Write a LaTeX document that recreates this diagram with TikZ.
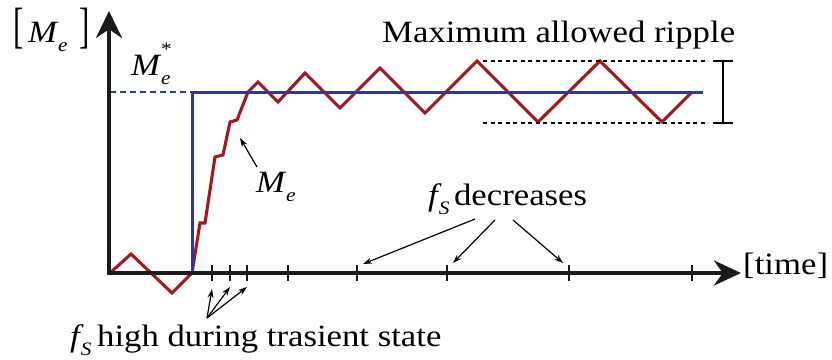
\documentclass[tikz,border=0pt]{standalone}
\usepackage{fontspec}
\setmainfont{Liberation Serif}
\usetikzlibrary{arrows.meta}
\definecolor{cred}{HTML}{A3191F}
\definecolor{cblue}{HTML}{2B3A93}
\definecolor{caxis}{HTML}{1A1A1A}
\newcommand\wide[1]{\scalebox{1.12}[1]{#1}}
\newcommand\subtxt[1]{\raisebox{-0.32em}{\fontsize{19}{19}\selectfont\itshape #1}}
\newcommand\myMe{{\itshape M}\kern1pt\subtxt{e}}
\newcommand\myfS{{\itshape f}\kern1pt\subtxt{S}}
\newcommand\myMestar{{\itshape M}\kern1pt\rlap{\raisebox{0.62em}{\fontsize{19}{19}\selectfont *}}\subtxt{e}}
\tikzset{
  txt/.style={inner sep=0pt, anchor=base west, font=\fontsize{31}{36}\selectfont},
  axisline/.style={line width=4.5pt, draw=caxis, {Stealth[length=27pt,width=26pt]}-{Stealth[length=27pt,width=25pt]}},
  tickline/.style={line width=2pt, draw=caxis},
  redline/.style={line width=3.1pt, draw=cred, line join=miter},
  blueline/.style={line width=3pt, draw=cblue},
  bluedash/.style={line width=1.8pt, draw=cblue, dash pattern=on 6pt off 4pt},
  ripple/.style={line width=1.5pt, draw=black, dash pattern=on 4pt off 3.5pt},
  pointer/.style={line width=1.2pt, draw=black, -{Stealth[length=9pt,width=6pt]}}
}
\begin{document}
\begin{tikzpicture}[x=1pt,y=-1pt]
\useasboundingbox (0,0) rectangle (832,359);
% axes
\coordinate (yt) at (109,11);
\coordinate (o) at (109,273);
\coordinate (xt) at (741,273);
% red curve
\draw[redline] (110,273) -- (131,254) -- (172,293) -- (192,273) -- (200,223) -- (205,223) -- (215,157) -- (223,155) -- (230,122) -- (237,120) -- (248,92) -- (258,82) -- (278,102) -- (305,73) -- (340,108) -- (380,68) -- (425,113) -- (477,61) -- (538,122) -- (600,61) -- (662,122) -- (692,92);
% blue reference
\coordinate (rs) at (110,92);
\coordinate (rc) at (192,92);
\coordinate (rb) at (192,273);
\coordinate (re) at (703,92);
\draw[bluedash] (rs) -- (rc);
\draw[blueline] (rb) -- (rc) -- (re);
\draw[axisline] (yt) -- (o) -- (xt);
\foreach \x in {212,230,247,288,357,447,569,692}
  \draw[tickline] (\x,265) -- (\x,281);
% ripple band
\coordinate (ta) at (483,61);
\coordinate (tb) at (708,61);
\coordinate (ba) at (483,123);
\coordinate (bb) at (708,123);
\draw[ripple] (ta) -- (tb);
\draw[ripple] (ba) -- (bb);
\coordinate (it) at (723,61);
\coordinate (ib) at (723,123);
\draw[line width=1.6pt] (it) -- (ib) (713,61) -- (733,61) (713,123) -- (733,123);
% texts
\node[txt] (ripl) at (382,42) {\wide{Maximum allowed ripple}};
\node[txt] (lb) at (13,42) {\scalebox{1}[1.6]{[}};
\node[txt] (ylab) at (28,42) {\wide{\myMe}};
\node[txt] (rb2) at (79,42) {\scalebox{1}[1.6]{]}};
\node[txt] (mstar) at (131,75) {\wide{\myMestar}};
\node[txt] (melab) at (256,192) {\wide{\myMe}};
\node[txt] (fdec) at (428,205) {\wide{\myfS\kern4pt decreases}};
\node[txt] (fhigh) at (70,346) {\wide{\myfS\kern5pt high during trasient state}};
\node[txt] (time) at (743,274) {\wide{[time]}};
% pointers
\coordinate (mt) at (257,167);
\coordinate (mh) at (240,138);
\draw[pointer] (mt) -- (mh);
\coordinate (d1) at (475,219);
\coordinate (d2) at (495,220);
\coordinate (d3) at (513,220);
\coordinate (e1) at (363,264);
\coordinate (e2) at (453,263);
\coordinate (e3) at (563,263);
\draw[pointer] (d1) -- (e1);
\draw[pointer] (d2) -- (e2);
\draw[pointer] (d3) -- (e3);
\coordinate (h0) at (207,318);
\coordinate (h1) at (212,289);
\coordinate (h2) at (230,287);
\coordinate (h3) at (247,287);
\draw[pointer] (h0) -- (h1);
\draw[pointer] (h0) -- (h2);
\draw[pointer] (h0) -- (h3);
\end{tikzpicture}
\end{document}
